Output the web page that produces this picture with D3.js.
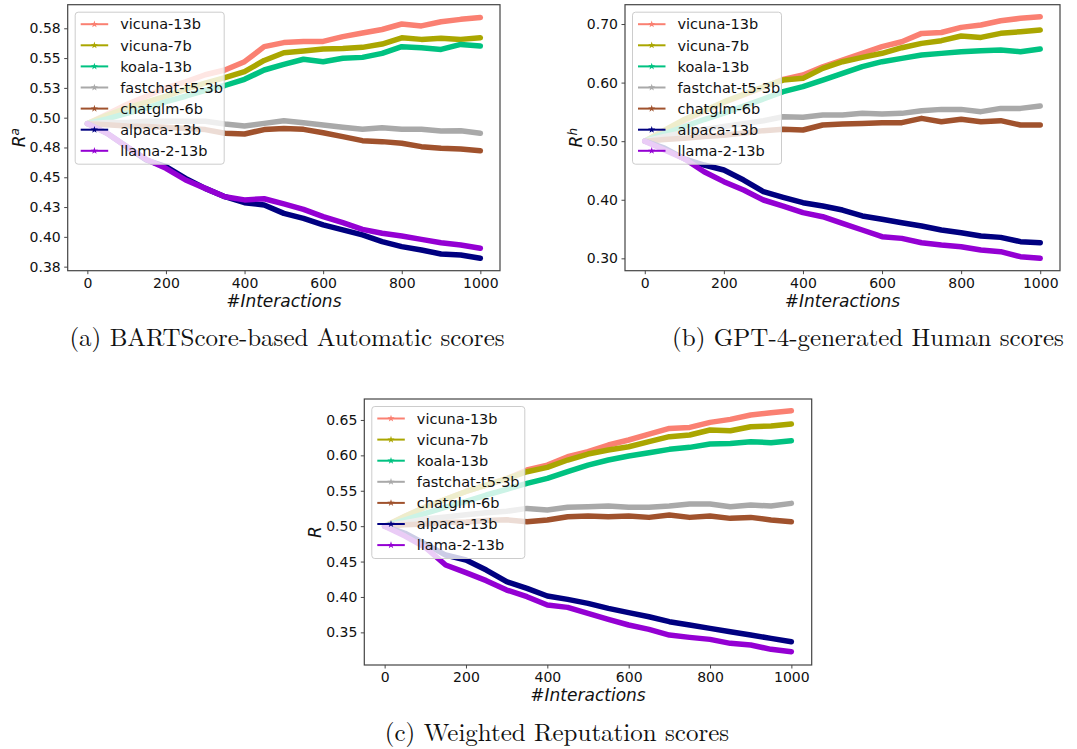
<!DOCTYPE html>
<html><head><meta charset="utf-8">
<script src="https://cdn.jsdelivr.net/npm/d3@7"></script>
<style>body{margin:0;background:#fff} svg{display:block}</style>
</head><body>
<svg id="chart" width="1077" height="749"></svg>
<script>
// ---------- data ----------
const interactions = [0,50,100,150,200,250,300,350,400,450,500,550,600,650,700,750,800,850,900,950,1000];
const models = ["vicuna-13b","vicuna-7b","koala-13b","fastchat-t5-3b","chatglm-6b","alpaca-13b","llama-2-13b"];
const modelColors = ["#fa8072","#aaa600","#00c281","#a9a9a9","#a0522d","#000080","#9400d3"];

// (a) BARTScore-based automatic reputation R^a
const automaticScores = [
  [0.495,0.503,0.511,0.518,0.525,0.530,0.536,0.540,0.547,0.5596,0.563,0.564,0.564,0.568,0.571,0.574,0.5786,0.577,0.5805,0.5825,0.584],
  [0.495,0.502,0.508,0.513,0.518,0.524,0.529,0.5336,0.5386,0.548,0.5545,0.556,0.5576,0.558,0.559,0.5618,0.567,0.5657,0.5666,0.5657,0.567],
  [0.495,0.499,0.5036,0.508,0.5134,0.518,0.523,0.527,0.5322,0.540,0.5447,0.549,0.547,0.5498,0.5506,0.554,0.5596,0.5587,0.5573,0.5615,0.5601],
  [0.495,0.496,0.496,0.497,0.497,0.497,0.497,0.4947,0.493,0.4952,0.4975,0.4958,0.4938,0.4919,0.4902,0.4916,0.4902,0.4902,0.4888,0.489,0.4869],
  [0.495,0.494,0.493,0.4925,0.492,0.491,0.490,0.4869,0.4863,0.4900,0.491,0.4902,0.4874,0.4841,0.4807,0.4799,0.4785,0.4757,0.4743,0.4737,0.4723],
  [0.495,0.4869,0.4757,0.4645,0.4589,0.4491,0.4407,0.4337,0.4287,0.4267,0.4197,0.4155,0.410,0.4058,0.4016,0.396,0.3918,0.389,0.3856,0.3848,0.382],
  [0.495,0.487,0.4757,0.465,0.4575,0.4477,0.4407,0.4337,0.431,0.432,0.4276,0.4231,0.417,0.4119,0.4063,0.403,0.4007,0.3979,0.3951,0.3932,0.3904]
];
// (b) GPT-4-generated human reputation R^h
const humanScores = [
  [0.50,0.518,0.535,0.551,0.566,0.579,0.592,0.6055,0.613,0.627,0.6385,0.65,0.6613,0.6698,0.684,0.6855,0.6943,0.6983,0.7057,0.7097,0.7125],
  [0.50,0.519,0.537,0.552,0.567,0.580,0.593,0.6044,0.6073,0.6243,0.6357,0.6431,0.65,0.6596,0.667,0.6716,0.6795,0.6772,0.6841,0.6869,0.6898],
  [0.50,0.513,0.525,0.537,0.548,0.560,0.572,0.5845,0.593,0.6044,0.6158,0.6272,0.6357,0.6414,0.6471,0.6499,0.6528,0.6545,0.6556,0.6528,0.6573],
  [0.50,0.508,0.515,0.520,0.525,0.530,0.535,0.5418,0.5407,0.5447,0.5447,0.5475,0.5464,0.5475,0.5521,0.5543,0.5543,0.5504,0.556,0.556,0.560],
  [0.50,0.503,0.505,0.508,0.510,0.514,0.518,0.5202,0.5191,0.5276,0.5293,0.5304,0.5316,0.5316,0.539,0.5333,0.5373,0.5333,0.535,0.5276,0.5276],
  [0.50,0.488,0.470,0.4593,0.4508,0.4337,0.4138,0.4041,0.395,0.3893,0.3825,0.3723,0.3666,0.3609,0.3552,0.3484,0.3438,0.3381,0.3358,0.3285,0.3267],
  [0.50,0.485,0.470,0.4479,0.4309,0.4166,0.3996,0.3893,0.378,0.3711,0.3597,0.3484,0.337,0.3341,0.3267,0.3228,0.3199,0.3142,0.3114,0.3028,0.300]
];
// (c) weighted reputation R
const weightedScores = [
  [0.50,0.514,0.527,0.538,0.549,0.558,0.567,0.5793,0.5863,0.5981,0.6052,0.6146,0.6217,0.6301,0.6381,0.6395,0.6466,0.6508,0.657,0.6603,0.6631],
  [0.50,0.514,0.527,0.538,0.549,0.558,0.567,0.5769,0.583,0.5934,0.6019,0.6075,0.6122,0.6193,0.6264,0.6287,0.6358,0.6348,0.6405,0.6414,0.6443],
  [0.50,0.509,0.518,0.527,0.535,0.544,0.552,0.5605,0.5675,0.5769,0.5863,0.5934,0.5991,0.6038,0.6085,0.6113,0.616,0.6169,0.6193,0.6179,0.6207],
  [0.50,0.505,0.510,0.513,0.516,0.519,0.521,0.5251,0.5228,0.5266,0.5275,0.5284,0.5266,0.5266,0.5284,0.5313,0.5313,0.5275,0.5298,0.5284,0.5322],
  [0.50,0.502,0.503,0.505,0.506,0.508,0.509,0.5063,0.5087,0.5134,0.5143,0.5134,0.5143,0.5124,0.5157,0.5124,0.5143,0.511,0.5124,0.5087,0.5063],
  [0.50,0.490,0.475,0.4592,0.4522,0.438,0.4216,0.4121,0.4013,0.3966,0.391,0.3839,0.3778,0.3721,0.3651,0.3604,0.3556,0.3509,0.3462,0.3415,0.3368],
  [0.50,0.486,0.470,0.4451,0.4343,0.423,0.4098,0.4004,0.3886,0.3853,0.3768,0.3684,0.3604,0.3542,0.3462,0.3429,0.3401,0.3345,0.3321,0.326,0.3227]
];

const xTicks = [0,200,400,600,800,1000];
const aTickValues = [0.375,0.400,0.425,0.450,0.475,0.500,0.525,0.550,0.575];
const aTickLabels = ["0.38","0.40","0.43","0.45","0.48","0.50","0.53","0.55","0.58"];
const bTickValues = [0.30,0.40,0.50,0.60,0.70];
const bTickLabels = ["0.30","0.40","0.50","0.60","0.70"];
const cTickValues = [0.35,0.40,0.45,0.50,0.55,0.60,0.65];
const cTickLabels = ["0.35","0.40","0.45","0.50","0.55","0.60","0.65"];
const captions = ["(a) BARTScore-based Automatic scores","(b) GPT-4-generated Human scores","(c) Weighted Reputation scores"];
const xLabel = "#Interactions";

// ---------- layout ----------
const svg = d3.select("#chart");
const panels = [
  {id:"a", box:{l:67.7,r:500,t:4.7,b:270.7}, yDomain:[0.3716,0.5948], series:automaticScores, tv:aTickValues, tl:aTickLabels, sup:"a", cap:captions[0], capX:287, capY:346},
  {id:"b", box:{l:625,r:1060,t:4.7,b:270.7}, yDomain:[0.2789,0.7330], series:humanScores, tv:bTickValues, tl:bTickLabels, sup:"h", cap:captions[1], capX:868, capY:346},
  {id:"c", box:{l:364.3,r:811.7,t:399,b:665}, yDomain:[0.3039,0.6796], series:weightedScores, tv:cTickValues, tl:cTickLabels, sup:null, cap:captions[2], capX:557, capY:741}
];
const sans = "'DejaVu Sans', sans-serif";

panels.forEach(p => {
  const {l,r,t,b} = p.box;
  const x = d3.scaleLinear().domain([-50,1050]).range([l,r]);
  const y = d3.scaleLinear().domain(p.yDomain).range([b,t]);
  const g = svg.append("g");

  g.append("clipPath").attr("id","clip-"+p.id).append("rect")
    .attr("x",l).attr("y",t).attr("width",r-l).attr("height",b-t);

  const line = d3.line().x((d,i)=>x(interactions[i])).y(d=>y(d));
  const lines = g.append("g").attr("clip-path","url(#clip-"+p.id+")");
  p.series.forEach((s,k) => {
    lines.append("path").datum(s).attr("d",line)
      .attr("fill","none").attr("stroke",modelColors[k])
      .attr("stroke-width",5.5).attr("stroke-linejoin","round").attr("stroke-linecap","round");
  });

  // axes
  const xAxis = d3.axisBottom(x).tickValues(xTicks).tickSize(3.5).tickPadding(3.5).tickFormat(d3.format("d"));
  const yAxis = d3.axisLeft(y).tickValues(p.tv).tickSize(3.5).tickPadding(3.5).tickFormat((d,i)=>p.tl[i]);
  const gx = g.append("g").attr("transform",`translate(0,${b})`).call(xAxis);
  const gy = g.append("g").attr("transform",`translate(${l},0)`).call(yAxis);
  [gx,gy].forEach(a => {
    a.select(".domain").remove();
    a.selectAll(".tick line").attr("stroke","#333").attr("stroke-width",0.9);
    a.selectAll(".tick text").attr("fill","#111").style("font-family",sans).style("font-size","14px");
  });

  // frame
  g.append("rect").attr("x",l).attr("y",t).attr("width",r-l).attr("height",b-t)
    .attr("fill","none").attr("stroke","#444").attr("stroke-width",1.2);

  // axis labels
  g.append("text").attr("x",(l+r)/2).attr("y",b+36).attr("text-anchor","middle")
    .style("font-family",sans).style("font-size","17px").style("font-style","italic").attr("fill","#111")
    .text(xLabel);
  const yl = g.append("text").attr("transform",`translate(${l-43},${(t+b)/2}) rotate(-90)`)
    .attr("text-anchor","middle").style("font-family",sans).style("font-size","17px").style("font-style","italic").attr("fill","#111");
  yl.append("tspan").text("R");
  if (p.sup) yl.append("tspan").attr("dy","-0.45em").style("font-size","12px").text(p.sup);

  // legend
  const lx = l+7.5, ly = t+7.5, lw = p.id==="c"?153:149, lh = 152;
  const lg = g.append("g");
  lg.append("rect").attr("x",lx).attr("y",ly).attr("width",lw).attr("height",lh).attr("rx",3)
    .attr("fill","#fff").attr("fill-opacity",0.8).attr("stroke","#cccccc").attr("stroke-width",1);
  const star = d3.symbol().type(d3.symbolStar).size(16);
  models.forEach((m,k) => {
    const yy = ly + 12 + k*21.1;
    lg.append("line").attr("x1",lx+5.5).attr("x2",lx+33).attr("y1",yy).attr("y2",yy)
      .attr("stroke",modelColors[k]).attr("stroke-width",2);
    lg.append("path").attr("d",star).attr("transform",`translate(${lx+19.2},${yy})`).attr("fill",modelColors[k]);
    lg.append("text").attr("x",lx+45).attr("y",yy).attr("dy","0.36em")
      .style("font-family",sans).style("font-size","14.5px").attr("fill","#111").text(m);
  });

  // caption
  svg.append("text").attr("x",p.capX).attr("y",p.capY).attr("text-anchor","middle")
    .style("font-family","'Latin Modern Roman','CMU Serif','Liberation Serif',serif").style("font-size","25px").attr("fill","#111")
    .text(p.cap);
});
</script>
</body></html>
